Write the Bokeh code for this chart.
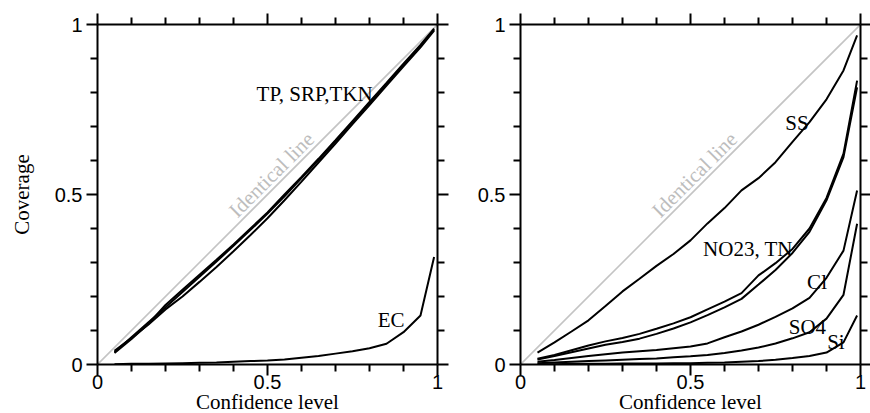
import math
from bokeh.plotting import figure
from bokeh.layouts import row
from bokeh.models import LinearAxis, FixedTicker, Range1d
from bokeh.core.properties import value
from bokeh.embed import file_html
from bokeh.resources import INLINE

# ---------------- data ----------------
conf = [0.05, 0.1, 0.15, 0.2, 0.25, 0.3, 0.35, 0.4, 0.45, 0.5,
        0.55, 0.6, 0.65, 0.7, 0.75, 0.8, 0.85, 0.9, 0.95, 0.99]

identity_x = [0, 1]
identity_y = [0, 1]

# left panel
tp = [0.036, 0.080, 0.124, 0.168, 0.213, 0.258, 0.303, 0.349, 0.396, 0.444,
      0.495, 0.548, 0.602, 0.657, 0.713, 0.769, 0.825, 0.882, 0.938, 0.985]
srp = [0.040, 0.078, 0.118, 0.162, 0.200, 0.243, 0.287, 0.333, 0.381, 0.430,
       0.483, 0.538, 0.594, 0.650, 0.707, 0.763, 0.820, 0.877, 0.933, 0.982]
tkn = [0.034, 0.075, 0.120, 0.175, 0.220, 0.264, 0.308, 0.353, 0.400, 0.447,
       0.500, 0.552, 0.605, 0.660, 0.716, 0.772, 0.828, 0.885, 0.940, 0.988]
ec = [0.001, 0.002, 0.002, 0.003, 0.004, 0.005, 0.006, 0.008, 0.010, 0.012,
      0.015, 0.020, 0.025, 0.032, 0.039, 0.048, 0.061, 0.095, 0.144, 0.316]

# right panel
ss = [0.035, 0.065, 0.097, 0.130, 0.172, 0.215, 0.252, 0.290, 0.325, 0.365,
      0.415, 0.460, 0.512, 0.548, 0.595, 0.655, 0.713, 0.780, 0.865, 0.968]
no23 = [0.017, 0.028, 0.042, 0.056, 0.068, 0.078, 0.090, 0.105, 0.121, 0.139,
        0.162, 0.185, 0.210, 0.262, 0.298, 0.340, 0.400, 0.490, 0.620, 0.835]
tn = [0.015, 0.025, 0.036, 0.047, 0.058, 0.066, 0.076, 0.090, 0.106, 0.124,
      0.145, 0.168, 0.193, 0.235, 0.278, 0.328, 0.390, 0.483, 0.610, 0.815]
cl = [0.008, 0.013, 0.019, 0.025, 0.030, 0.035, 0.039, 0.043, 0.048, 0.053,
      0.062, 0.080, 0.097, 0.117, 0.140, 0.165, 0.196, 0.255, 0.335, 0.512]
so4 = [0.004, 0.006, 0.008, 0.010, 0.012, 0.014, 0.016, 0.018, 0.021, 0.024,
       0.028, 0.034, 0.041, 0.050, 0.062, 0.077, 0.095, 0.135, 0.205, 0.414]
si = [0.001, 0.001, 0.002, 0.002, 0.002, 0.003, 0.003, 0.003, 0.004, 0.004,
      0.005, 0.006, 0.008, 0.010, 0.014, 0.019, 0.025, 0.035, 0.065, 0.144]

tick_values = [0, 0.5, 1]
tick_labels = ["0", "0.5", "1"]
minor_values = [0.1, 0.2, 0.3, 0.4, 0.6, 0.7, 0.8, 0.9]

left_labels = ["TP, SRP,TKN", "EC"]
left_label_x = [0.468, 0.824]
left_label_y = [0.797, 0.132]

right_labels = ["SS", "NO23, TN", "Cl", "SO4", "Si"]
right_label_x = [0.779, 0.537, 0.843, 0.789, 0.902]
right_label_y = [0.710, 0.340, 0.242, 0.110, 0.066]

x_title = "Confidence level"
y_title = "Coverage"
identity_text = "Identical line"

SERIF = "Liberation Serif"
SANS = "Liberation Sans"


def style_axis(ax, show_labels, tick_out=11, minor_out=7):
    ax.ticker = FixedTicker(ticks=tick_values, minor_ticks=minor_values)
    ax.major_tick_out = tick_out
    ax.major_tick_in = 0
    ax.minor_tick_out = minor_out
    ax.minor_tick_in = 0
    ax.axis_line_width = 2
    ax.axis_line_color = "black"
    ax.major_tick_line_width = 2
    ax.major_tick_line_color = "black"
    ax.minor_tick_line_width = 2
    ax.minor_tick_line_color = "black"
    if show_labels:
        ax.major_label_overrides = {v: t for v, t in zip(tick_values, tick_labels)}
        ax.major_label_text_font = SANS
        ax.major_label_text_font_size = "20px"
        ax.major_label_text_color = "black"
    else:
        ax.major_label_overrides = {v: "" for v in tick_values}
        ax.major_label_text_font_size = "1px"
        ax.major_label_standoff = 0


def make_panel(border_left, border_right, ylabel, right_tick_out):
    p = figure(frame_width=340, frame_height=340,
               x_range=Range1d(0, 1), y_range=Range1d(0, 1),
               output_backend="svg", toolbar_location=None,
               x_axis_location=None, y_axis_location=None,
               min_border_left=border_left, min_border_right=border_right,
               min_border_top=24, min_border_bottom=49)
    p.grid.visible = False
    p.outline_line_color = None
    p.background_fill_color = "white"
    p.border_fill_color = "white"

    left = LinearAxis()
    style_axis(left, True)
    left.major_label_standoff = 4
    if ylabel:
        left.axis_label = ylabel
        left.axis_label_text_font = SERIF
        left.axis_label_text_font_style = "normal"
        left.axis_label_text_font_size = "21px"
        left.axis_label_text_color = "black"
        left.axis_label_standoff = 18
    p.add_layout(left, "left")

    bottom = LinearAxis()
    style_axis(bottom, True)
    bottom.major_label_standoff = -1
    bottom.axis_label = x_title
    bottom.axis_label_text_font = SERIF
    bottom.axis_label_text_font_style = "normal"
    bottom.axis_label_text_font_size = "21px"
    bottom.axis_label_text_color = "black"
    bottom.axis_label_standoff = -2
    p.add_layout(bottom, "below")

    top = LinearAxis()
    style_axis(top, False)
    p.add_layout(top, "above")

    right = LinearAxis()
    style_axis(right, False, tick_out=right_tick_out, minor_out=min(7, right_tick_out))
    p.add_layout(right, "right")

    p.line(identity_x, identity_y, line_color="#c4c4c4", line_width=1.6)
    p.text(x=[0.512], y=[0.558], text=[identity_text], angle=math.pi / 4,
           text_align="center", text_baseline="middle",
           text_font=value(SERIF), text_font_size="21px", text_color="#bdbdbd")
    return p


p1 = make_panel(97, 20, y_title, 11)
for ys in (tp, srp, tkn, ec):
    p1.line(conf, ys, line_color="black", line_width=2)
p1.text(x=left_label_x, y=left_label_y, text=left_labels,
        text_align="left", text_baseline="alphabetic",
        text_font=value(SERIF), text_font_size="21px", text_color="black")

p2 = make_panel(63, 10, None, 10)
for ys in (ss, no23, tn, cl, so4, si):
    p2.line(conf, ys, line_color="black", line_width=2)
p2.text(x=right_label_x, y=right_label_y, text=right_labels,
        text_align="left", text_baseline="alphabetic",
        text_font=value(SERIF), text_font_size="21px", text_color="black")

layout = row(p1, p2, spacing=0)
open("out.html", "w").write(file_html(layout, INLINE))
